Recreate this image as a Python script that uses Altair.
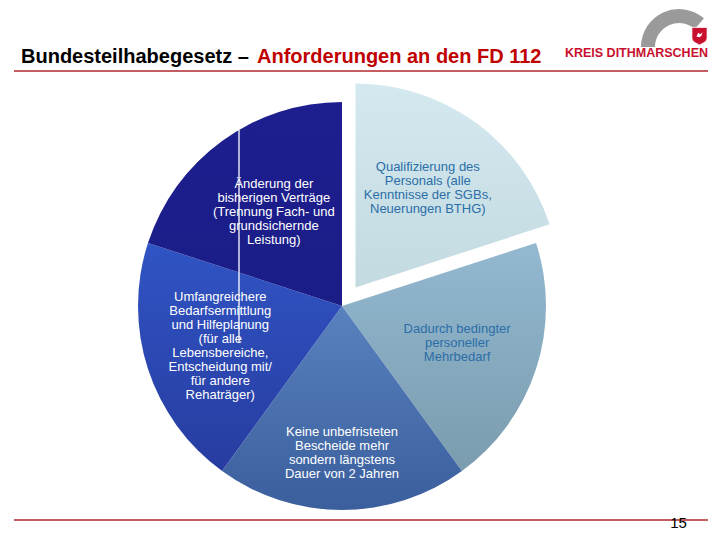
import math
import altair as alt
import pandas as pd

# ---------------- data ----------------
categories = ["Qualifizierung", "Mehrbedarf", "Bescheide", "Bedarfsermittlung", "Verträge"]
labels = [
    "Qualifizierung des\nPersonals (alle\nKenntnisse der SGBs,\nNeuerungen BTHG)",
    "Dadurch bedingter\npersoneller\nMehrbedarf",
    "Keine unbefristeten\nBescheide mehr\nsondern längstens\nDauer von 2 Jahren",
    "Umfangreichere\nBedarfsermittlung\nund Hilfeplanung\n(für alle\nLebensbereiche,\nEntscheidung mit/\nfür andere\nRehaträger)",
    "Änderung der\nbisherigen Verträge\n(Trennung Fach- und\ngrundsichernde\nLeistung)",
]
shares = [20, 20, 20, 20, 20]
exploded = [1, 0, 0, 0, 0]

title_black = "Bundesteilhabegesetz – "
title_red = "Anforderungen an den FD 112"
logo_text = "KREIS DITHMARSCHEN"
page_number = "15"

# ---------------- styles ----------------
slice_gradients = {
    "Qualifizierung": ("#d4e9ef", "#c3dae1"),
    "Mehrbedarf": ("#93b8d0", "#7a9cae"),
    "Bescheide": ("#5882be", "#3b5e9d"),
    "Bedarfsermittlung": ("#3054c4", "#273ca0"),
    "Verträge": ("#1e1e90", "#1a1d86"),
}
label_colors = {
    "Qualifizierung": "#2b6ea8",
    "Mehrbedarf": "#2b6ea8",
    "Bescheide": "white",
    "Bedarfsermittlung": "white",
    "Verträge": "white",
}
label_radius = {
    "Qualifizierung": 123,
    "Mehrbedarf": 121,
    "Bescheide": 147,
    "Bedarfsermittlung": 128,
    "Verträge": 116,
}

M = 8  # page margin
CX, CY, R = 342 - M, 306 - M, 204
EXPLODE = 23
RED = "#b0282e"
FONT = "Liberation Sans"
LINE_H = 14

df = pd.DataFrame({
    "cat": categories,
    "label": labels,
    "share": shares,
    "exploded": exploded,
    "order": list(range(len(categories))),
})

base = (
    alt.Chart(df)
    .transform_joinaggregate(total="sum(share)")
    .transform_window(cum="sum(share)", sort=[alt.SortField("order")], frame=[None, 0])
    .transform_calculate(
        t0="2*PI*(datum.cum - datum.share)/datum.total",
        t1="2*PI*datum.cum/datum.total",
    )
    .transform_calculate(tm="(datum.t0 + datum.t1)/2")
    .transform_calculate(
        ax=f"{CX} + datum.exploded*{EXPLODE}*sin(datum.tm)",
        ay=f"{CY} - datum.exploded*{EXPLODE}*cos(datum.tm)",
        nlines="length(split(datum.label, '\\n'))",
    )
)

layers = []
for cat in categories:
    top, bot = slice_gradients[cat]
    grad = alt.Gradient(
        gradient="linear",
        stops=[alt.GradientStop(color=top, offset=0), alt.GradientStop(color=bot, offset=1)],
        x1=0, x2=0, y1=0, y2=1,
    )
    layers.append(
        base.transform_filter(alt.datum.cat == cat)
        .mark_arc(outerRadius=R, color=grad, stroke=None)
        .encode(
            x=alt.X("ax:Q", scale=None, axis=None),
            y=alt.Y("ay:Q", scale=None, axis=None),
            theta=alt.Theta("t0:Q", scale=None),
            theta2="t1:Q",
        )
    )

# artifact line in the slide
one = alt.Chart(pd.DataFrame({"k": [0]}))
layers.append(
    one.mark_rule(color="white", strokeWidth=1.3).encode(
        x=alt.value(239 - M), y=alt.value(130 - M), y2=alt.value(342 - M)
    )
)

for cat in categories:
    r = label_radius[cat]
    layers.append(
        base.transform_filter(alt.datum.cat == cat)
        .transform_calculate(
            lx=f"datum.ax + {r}*sin(datum.tm)",
            ly=f"datum.ay - {r}*cos(datum.tm) - (datum.nlines - 1)*{LINE_H}/2",
        )
        .mark_text(
            font=FONT, fontSize=13, lineHeight=LINE_H, lineBreak="\n",
            align="center", baseline="middle", color=label_colors[cat],
        )
        .encode(
            x=alt.X("lx:Q", scale=None, axis=None),
            y=alt.Y("ly:Q", scale=None, axis=None),
            text="label:N",
        )
    )

# header / footer lines
for yy in (71, 520):
    layers.append(
        one.mark_rule(color=RED, strokeWidth=1.5).encode(
            x=alt.value(14 - M), x2=alt.value(708 - M), y=alt.value(yy - M)
        )
    )

# title
layers.append(
    one.mark_text(font=FONT, fontSize=20, fontWeight="bold",
                  align="left", baseline="alphabetic", color="black")
    .encode(x=alt.value(21 - M), y=alt.value(62.5 - M), text=alt.value(title_black))
)
layers.append(
    one.mark_text(font=FONT, fontSize=20, fontWeight="bold",
                  align="left", baseline="alphabetic", color="#c00000")
    .encode(x=alt.value(257 - M), y=alt.value(62.5 - M), text=alt.value(title_red))
)

# logo: grey arch, shield, text
layers.append(
    one.mark_arc(color="#9a9a9a", outerRadius=38, innerRadius=24,
                 theta=4.71, theta2=7.0)
    .encode(x=alt.value(679 - M), y=alt.value(47 - M))
)
shield = "M-1,-1 L1,-1 L1,0.35 C1,0.9 0.4,1.1 0,1.3 C-0.4,1.1 -1,0.9 -1,0.35 Z"
layers.append(
    one.mark_point(shape=shield, size=230, filled=True, color="#c8102e", opacity=1,
                   stroke="white", strokeWidth=0.8)
    .encode(x=alt.value(699.5 - M), y=alt.value(35 - M))
)
layers.append(
    one.mark_point(shape="M-0.8,0.4 L-0.3,-0.6 L0.2,-0.2 L0.8,-0.7 L0.5,0.2 L0,0.6 Z",
                   size=60, filled=True, color="white", opacity=1)
    .encode(x=alt.value(699.5 - M), y=alt.value(35 - M))
)
layers.append(
    one.mark_text(font=FONT, fontSize=12.5, fontWeight="bold", align="right",
                  baseline="alphabetic", color="#c8102e")
    .encode(x=alt.value(708 - M), y=alt.value(57 - M), text=alt.value(logo_text))
)

# page number
layers.append(
    one.mark_text(font=FONT, fontSize=15, align="center", baseline="bottom", color="black")
    .encode(x=alt.value(678.5 - M), y=alt.value(523 - 0), text=alt.value(page_number))
)

chart = (
    alt.layer(*layers)
    .properties(width=704, height=524, padding=0, autosize="none", background="white")
    .configure_view(stroke=None)
)

chart.save("out.html", embed_options={"renderer": "svg", "actions": False})
